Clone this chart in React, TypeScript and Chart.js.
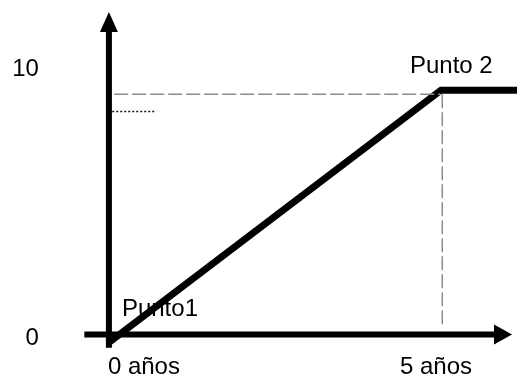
import React, { useEffect, useRef } from "react";
import { Chart, registerables } from "chart.js";

Chart.register(...registerables);

// Data
const xTickValues = [0, 5];
const xTickLabels = ["0 años", "5 años"];
const yTickValues = [0, 10];
const yTickLabels = ["0", "10"];

const mainX = [0, 5, 6.3];
const mainY = [-0.3, 9.2, 9.2];

const refHX = [0.08, 5];
const refHY = [9.05, 9.05];

const refVX = [5.02, 5.02];
const refVY = [9.05, 0.3];

const dotX = [0.05, 0.7];
const dotY = [8.4, 8.4];

const pointLabels = ["Punto1", "Punto 2"];
const pointLabelX = [0, 5];
const pointLabelY = [0, 9.2];

const zip = (xs: number[], ys: number[]) => xs.map((x, i) => ({ x, y: ys[i] }));

const FONT = '24px "Liberation Sans", Arial, sans-serif';

const overlay = {
  id: "overlay",
  beforeDatasetsDraw(chart: any) {
    const { ctx, scales } = chart;
    const xs = scales.x;
    const ys = scales.y;
    ctx.save();
    ctx.fillStyle = "#000";
    ctx.strokeStyle = "#000";
    // Y axis
    const ax = xs.getPixelForValue(0);
    const yBottom = ys.getPixelForValue(-0.5);
    const yTip = ys.getPixelForValue(12.15);
    ctx.lineWidth = 6;
    ctx.beginPath();
    ctx.moveTo(ax, yBottom);
    ctx.lineTo(ax, yTip + 15);
    ctx.stroke();
    ctx.beginPath();
    ctx.moveTo(ax, yTip);
    ctx.lineTo(ax - 9, yTip + 20);
    ctx.lineTo(ax + 9, yTip + 20);
    ctx.closePath();
    ctx.fill();
    // X axis
    const ay = ys.getPixelForValue(0);
    const xLeft = xs.getPixelForValue(-0.37);
    const xTip = xs.getPixelForValue(6.07);
    ctx.lineWidth = 6;
    ctx.beginPath();
    ctx.moveTo(xLeft, ay);
    ctx.lineTo(xTip - 15, ay);
    ctx.stroke();
    ctx.beginPath();
    ctx.moveTo(xTip, ay);
    ctx.lineTo(xTip - 18, ay - 10);
    ctx.lineTo(xTip - 18, ay + 10);
    ctx.closePath();
    ctx.fill();
    ctx.restore();
  },
  afterDatasetsDraw(chart: any) {
    const { ctx, scales } = chart;
    const xs = scales.x;
    const ys = scales.y;
    const ax = xs.getPixelForValue(0);
    ctx.save();
    ctx.fillStyle = "#000";
    ctx.font = FONT;
    // y tick labels
    ctx.textAlign = "right";
    ctx.textBaseline = "middle";
    yTickValues.forEach((v, i) => {
      ctx.fillText(yTickLabels[i], ax - 70, ys.getPixelForValue(v) + (v === 0 ? 4 : 0));
    });
    // x tick labels
    ctx.textBaseline = "alphabetic";
    const base = ys.getPixelForValue(0) + 39;
    xTickValues.forEach((v, i) => {
      if (i === 0) {
        ctx.textAlign = "left";
        ctx.fillText(xTickLabels[i], xs.getPixelForValue(v) - 1, base);
      } else {
        ctx.textAlign = "center";
        ctx.fillText(xTickLabels[i], xs.getPixelForValue(v) - 5, base);
      }
    });
    // point labels
    ctx.textAlign = "left";
    ctx.fillText(pointLabels[0], xs.getPixelForValue(pointLabelX[0]) + 13, ys.getPixelForValue(pointLabelY[0]) - 19);
    ctx.fillText(pointLabels[1], xs.getPixelForValue(pointLabelX[1]) - 31, ys.getPixelForValue(pointLabelY[1]) - 17);
    ctx.restore();
  },
};

export default function App() {
  const ref = useRef<HTMLCanvasElement | null>(null);
  useEffect(() => {
    if (!ref.current) return;
    const chart = new Chart(ref.current, {
      type: "line",
      data: {
        datasets: [
          {
            data: zip(refHX, refHY),
            borderColor: "#8c8c8c",
            borderWidth: 1.5,
            borderDash: [14, 4],
            pointRadius: 0,
          },
          {
            data: zip(refVX, refVY),
            borderColor: "#8c8c8c",
            borderWidth: 1.5,
            borderDash: [14, 4],
            pointRadius: 0,
          },
          {
            data: zip(dotX, dotY),
            borderColor: "#111",
            borderWidth: 1.5,
            borderDash: [2, 2],
            pointRadius: 0,
          },
          {
            data: zip(mainX, mainY),
            borderColor: "#000",
            borderWidth: 7,
            borderJoinStyle: "miter",
            borderCapStyle: "butt",
            pointRadius: 0,
            tension: 0,
          },
        ],
      },
      options: {
        animation: false,
        responsive: false,
        maintainAspectRatio: false,
        layout: { padding: 0 },
        plugins: { legend: { display: false }, tooltip: { enabled: false } },
        scales: {
          x: { type: "linear", min: -1.64, max: 6.145, display: false },
          y: { type: "linear", min: -1.562, max: 12.6, display: false },
        },
      },
      plugins: [overlay],
    });
    return () => chart.destroy();
  }, []);
  return (
    <div style={{ position: "absolute", left: 0, top: 0, width: 517, height: 376, background: "#fff" }}>
      <canvas ref={ref} width={517} height={376} />
    </div>
  );
}
